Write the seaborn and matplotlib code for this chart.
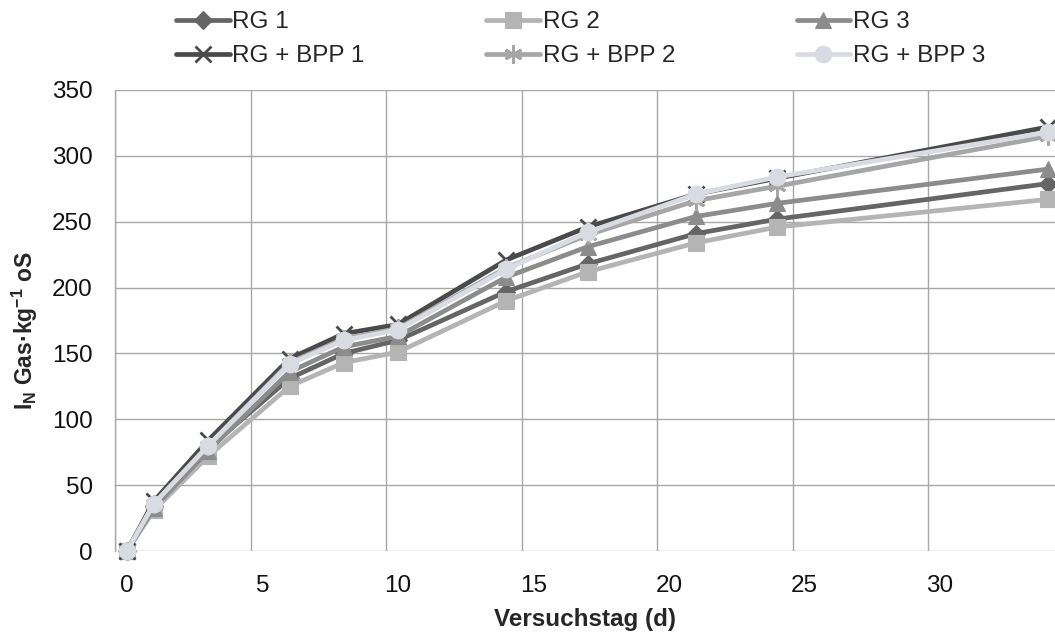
import numpy as np
import pandas as pd
import matplotlib
matplotlib.use("Agg")
import matplotlib.pyplot as plt
import seaborn as sns

days = [0, 1, 3, 6, 8, 10, 14, 17, 21, 24, 34]
rg1 = [0, 34, 78, 131, 150, 160, 197, 218, 241, 252, 279]
rg2 = [0, 31, 72, 125, 143, 151, 190, 212, 234, 246, 267]
rg3 = [0, 33, 76, 136, 155, 163, 208, 231, 254, 264, 290]
bpp1 = [0, 38, 84, 146, 165, 172, 221, 246, 271, 283, 322]
bpp2 = [0, 36, 80, 143, 161, 169, 215, 240, 266, 277, 315]
bpp3 = [0, 36, 80, 142, 160, 168, 214, 242, 271, 284, 318]

series_names = ["RG 1", "RG 2", "RG 3", "RG + BPP 1", "RG + BPP 2", "RG + BPP 3"]
series_values = [rg1, rg2, rg3, bpp1, bpp2, bpp3]
x_ticks = [0, 5, 10, 15, 20, 25, 30]
y_ticks = [0, 50, 100, 150, 200, 250, 300, 350]

colors = {"RG 1": "#656565", "RG 2": "#b4b4b4", "RG 3": "#8c8c8c",
          "RG + BPP 1": "#4a4a4a", "RG + BPP 2": "#a6a6a6", "RG + BPP 3": "#d9dbe2"}
markers = {"RG 1": "D", "RG 2": "s", "RG 3": "^",
           "RG + BPP 1": "x", "RG + BPP 2": (6, 2, 0), "RG + BPP 3": "o"}
msizes = {"RG 1": 9, "RG 2": 11, "RG 3": 11, "RG + BPP 1": 11, "RG + BPP 2": 13, "RG + BPP 3": 12}

rows = []
for name, vals in zip(series_names, series_values):
    for d, v in zip(days, vals):
        rows.append({"Tag": d, "Wert": v, "Serie": name})
df = pd.DataFrame(rows)

sns.set_theme(style="white")
plt.rcParams["font.family"] = ["Liberation Sans", "DejaVu Sans"]

fig = plt.figure(figsize=(10.55, 6.36), dpi=100)
ax = fig.add_axes([115 / 1055, 1 - 551 / 636, (1055 - 115) / 1055, (551 - 90) / 636])

sns.lineplot(data=df, x="Tag", y="Wert", hue="Serie",
             hue_order=series_names, palette=colors, marker="o",
             linewidth=3.4, markersize=11, legend=False, ax=ax, zorder=3)

for line, name in zip(ax.get_lines(), series_names):
    line.set_marker(markers[name])
    line.set_markeredgecolor(colors[name])
    line.set_markerfacecolor(colors[name])
    line.set_markersize(msizes[name])
    line.set_markeredgewidth(2.0 if name in ("RG + BPP 1", "RG + BPP 2") else 0.8)
    line.set_clip_on(False)

ax.set_xlim(-0.44, 34.24)
ax.set_ylim(0, 350)
ax.set_xticks(x_ticks)
ax.set_xticks([t - 0.44 for t in x_ticks], minor=True)
ax.set_yticks(y_ticks)
ax.tick_params(axis="both", which="both", length=0, labelsize=17.5, colors="#111111")
ax.tick_params(axis="x", pad=17)
ax.tick_params(axis="y", pad=16)
ax.grid(False)
ax.grid(True, which="minor", axis="x", color="#a8a8a8", linewidth=1.0)
ax.grid(True, which="major", axis="y", color="#a8a8a8", linewidth=1.0)
for s in ["top", "right", "bottom"]:
    ax.spines[s].set_visible(False)
ax.spines["left"].set_color("#a8a8a8")
ax.spines["left"].set_linewidth(1.0)

ax.set_xlabel("Versuchstag (d)", fontsize=17.5, fontweight="bold", labelpad=8)
ax.set_ylabel(r"I$_\mathregular{N}$ Gas·kg$^\mathregular{-1}$ oS", fontsize=16.5,
              fontweight="bold")
ax.yaxis.set_label_coords(-0.08, 0.477)

lines = ax.get_lines()
order = [0, 3, 1, 4, 2, 5]
leg = fig.legend([lines[i] for i in order], [series_names[i] for i in order],
                 loc="upper left", bbox_to_anchor=(170 / 1055, 0.992), ncol=3,
                 frameon=False, fontsize=17.5, handlelength=2.2, handletextpad=0.12,
                 columnspacing=5.0, labelspacing=0.5, borderaxespad=0.0,
                 borderpad=0.25)

fig.savefig("out.png", dpi=100)
